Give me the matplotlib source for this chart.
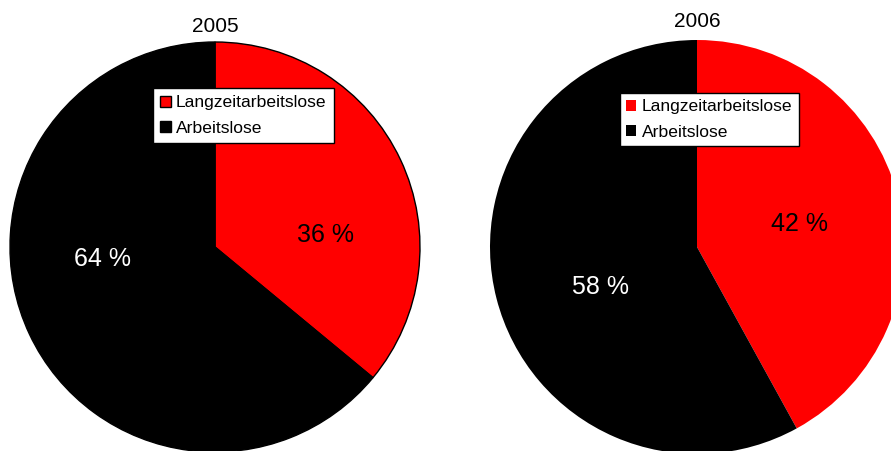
import matplotlib
matplotlib.use("Agg")
import matplotlib.pyplot as plt

plt.rcParams['font.family'] = ['Liberation Sans', 'DejaVu Sans']

# Daten
jahre = ["2005", "2006"]
kategorien = ["Langzeitarbeitslose", "Arbeitslose"]
anteile_2005 = [36, 64]
anteile_2006 = [42, 58]
farben = ["#ff0000", "#000000"]
text_farben = ["black", "white"]

W, H = 891, 451
fig = plt.figure(figsize=(W / 100, H / 100), dpi=100)


def px_axes(cx, cy, r):
    # Achse so legen, dass der Kreis (Radius 1) genau r Pixel hat
    return fig.add_axes([(cx - r) / W, (H - cy - r) / H, 2 * r / W, 2 * r / H])


def zeichne_kuchen(ax, werte, titel, rand, label_pos, titel_y):
    wp = dict(edgecolor='black', linewidth=1.0) if rand else dict(linewidth=0)
    wedges, _ = ax.pie(werte, colors=farben, startangle=90, counterclock=False,
                       radius=1, wedgeprops=wp)
    for w in wedges:
        w.set_clip_on(False)
    ax.set_xlim(-1, 1)
    ax.set_ylim(-1, 1)
    ax.set_aspect('auto')
    ax.axis('off')
    for v, (lx, ly), tc in zip(werte, label_pos, text_farben):
        ax.text(lx, ly, f"{v} %", color=tc, fontsize=18, ha='center', va='center')
    ax.text(0, titel_y, titel, fontsize=15, ha='center', va='center', clip_on=False)
    return wedges


def legende(wedges, x0, y0, pad):
    leg = fig.legend(wedges, kategorien, loc='upper left',
                     bbox_to_anchor=(x0 / W, 1 - y0 / H), bbox_transform=fig.transFigure,
                     fontsize=12.6, handlelength=0.58, handleheight=0.58, handletextpad=0.3,
                     borderpad=pad, labelspacing=0.6, fancybox=False, framealpha=1,
                     edgecolor='black', borderaxespad=0)
    leg.get_frame().set_linewidth(1.0)
    return leg


# 2005
ax1 = px_axes(215, 247, 205)
w1 = zeichne_kuchen(ax1, anteile_2005, jahre[0], True,
                    [(0.538, 0.06), (-0.551, -0.06)], 1.075)
legende(w1, 153, 88, 0.42)

# 2006
ax2 = px_axes(697, 247, 207)
w2 = zeichne_kuchen(ax2, anteile_2006, jahre[1], False,
                    [(0.493, 0.111), (-0.464, -0.193)], 1.09)
legende(w2, 620, 93, 0.36)

fig.savefig("out.png", dpi=100)
